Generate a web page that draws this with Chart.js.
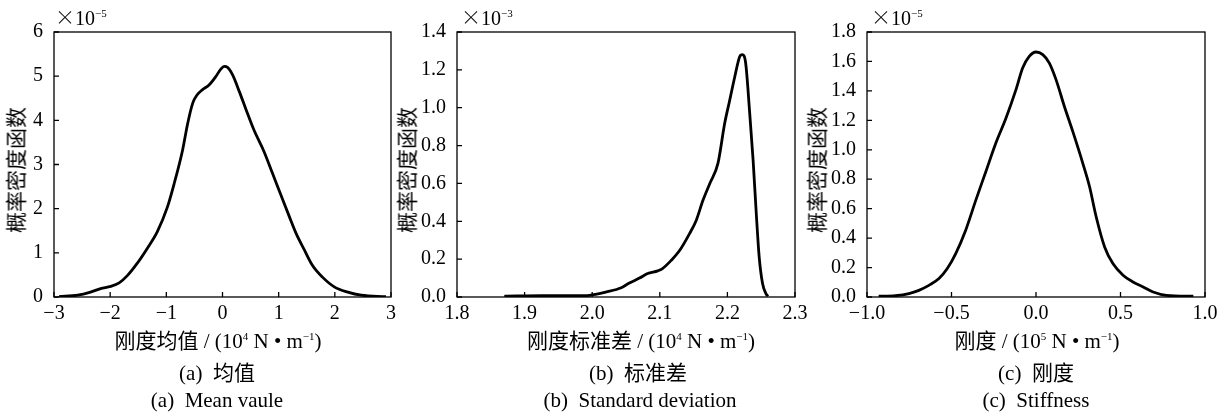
<!DOCTYPE html>
<html lang="zh-CN">
<head>
    <meta charset="UTF-8">
    <title>概率密度函数</title>
    <script src="https://cdn.jsdelivr.net/npm/chart.js"></script>
    <style>
        body {
            margin: 0;
            background-color: #ffffff;
        }
        #wrap {
            position: relative;
            width: 1231px;
            height: 414px;
            background: #fff;
            font-family: "Liberation Serif", "Noto Sans CJK SC", serif;
            color: #000;
        }
        .panel {
            position: absolute;
            top: 0;
            height: 414px;
        }
        .lbl {
            position: absolute;
            white-space: nowrap;
            transform: translate(-50%, -50%);
            line-height: 1;
        }
        .xt { font-size: 21px; }
        .cap { font-size: 21px; }
        .yt {
            font-size: 21px;
            transform: translate(-50%, -50%) rotate(-90deg);
        }
        .mult {
            position: absolute;
            font-size: 20px;
            line-height: 1;
            white-space: nowrap;
        }
        .mult .x { font-family: "Noto Sans CJK SC", sans-serif; font-size: 20px; font-weight: 300; }
        sup {
            font-size: 11px;
            vertical-align: 8px;
            line-height: 0;
        }
    </style>
</head>
<body>
<div id="wrap">
    <div class="panel" style="left:0;width:410px"><canvas id="chartMean"></canvas></div>
    <div class="panel" style="left:410px;width:410px"><canvas id="chartSd"></canvas></div>
    <div class="panel" style="left:820px;width:411px"><canvas id="chartStiff"></canvas></div>

    <!-- panel (a) -->
    <div class="mult" style="left:55px;top:7px"><span class="x">×</span>10<sup>−5</sup></div>
    <div class="lbl yt" style="left:17px;top:170px">概率密度函数</div>
    <div class="lbl xt" style="left:218px;top:341px">刚度均值 / (10<sup>4</sup> N • m<sup>−1</sup>)</div>
    <div class="lbl cap" style="left:217px;top:373px">(a)&nbsp; 均值</div>
    <div class="lbl cap" style="left:217px;top:400px">(a)&nbsp; Mean vaule</div>

    <!-- panel (b) -->
    <div class="mult" style="left:461px;top:7px"><span class="x">×</span>10<sup>−3</sup></div>
    <div class="lbl yt" style="left:408px;top:170px">概率密度函数</div>
    <div class="lbl xt" style="left:641px;top:341px">刚度标准差 / (10<sup>4</sup> N • m<sup>−1</sup>)</div>
    <div class="lbl cap" style="left:638px;top:373px">(b)&nbsp; 标准差</div>
    <div class="lbl cap" style="left:640px;top:400px">(b)&nbsp; Standard deviation</div>

    <!-- panel (c) -->
    <div class="mult" style="left:871px;top:7px"><span class="x">×</span>10<sup>−5</sup></div>
    <div class="lbl yt" style="left:818px;top:170px">概率密度函数</div>
    <div class="lbl xt" style="left:1037px;top:341px">刚度 / (10<sup>5</sup> N • m<sup>−1</sup>)</div>
    <div class="lbl cap" style="left:1036px;top:373px">(c)&nbsp; 刚度</div>
    <div class="lbl cap" style="left:1036px;top:400px">(c)&nbsp; Stiffness</div>
</div>

<script>
    // (a) 均值
    const meanX = [-2.91, -2.58, -2.35, -2.17, -1.99, -1.84, -1.69, -1.52, -1.34, -1.16, -0.98, -0.86, -0.71, -0.62, -0.53, -0.45, -0.36, -0.24, -0.12, -0.03, 0.03, 0.09, 0.18, 0.30, 0.42, 0.56, 0.74, 0.89, 1.04, 1.19, 1.31, 1.46, 1.60, 1.78, 1.99, 2.23, 2.47, 2.91];
    const meanY = [0.01, 0.04, 0.11, 0.19, 0.24, 0.32, 0.49, 0.76, 1.10, 1.48, 2.04, 2.57, 3.33, 3.93, 4.39, 4.58, 4.69, 4.80, 4.99, 5.16, 5.22, 5.20, 5.03, 4.65, 4.24, 3.78, 3.29, 2.80, 2.31, 1.82, 1.44, 1.06, 0.72, 0.45, 0.23, 0.11, 0.04, 0.01];
    const meanXTicks = [-3, -2, -1, 0, 1, 2, 3];
    const meanYTicks = [0, 1, 2, 3, 4, 5, 6];

    // (b) 标准差
    const sdX = [1.870, 1.926, 1.976, 1.996, 2.005, 2.020, 2.043, 2.055, 2.070, 2.082, 2.097, 2.104, 2.117, 2.129, 2.144, 2.154, 2.164, 2.174, 2.186, 2.196, 2.203, 2.211, 2.218, 2.222, 2.227, 2.233, 2.238, 2.243, 2.247, 2.252, 2.257, 2.260];
    const sdY = [0.005, 0.007, 0.007, 0.009, 0.014, 0.026, 0.049, 0.074, 0.100, 0.124, 0.138, 0.150, 0.194, 0.244, 0.335, 0.406, 0.512, 0.600, 0.706, 0.918, 1.033, 1.165, 1.268, 1.280, 1.236, 0.971, 0.724, 0.424, 0.212, 0.071, 0.018, 0.004];
    const sdXTicks = [1.8, 1.9, 2.0, 2.1, 2.2, 2.3];
    const sdYTicks = [0, 0.2, 0.4, 0.6, 0.8, 1.0, 1.2, 1.4];

    // (c) 刚度
    const stiffX = [-0.931, -0.832, -0.752, -0.693, -0.634, -0.574, -0.525, -0.475, -0.416, -0.356, -0.297, -0.238, -0.178, -0.119, -0.079, -0.040, 0.0, 0.040, 0.079, 0.119, 0.168, 0.218, 0.277, 0.317, 0.356, 0.406, 0.455, 0.515, 0.574, 0.634, 0.693, 0.772, 0.931];
    const stiffY = [0.005, 0.009, 0.023, 0.045, 0.079, 0.125, 0.193, 0.295, 0.454, 0.658, 0.851, 1.044, 1.214, 1.407, 1.555, 1.634, 1.664, 1.646, 1.589, 1.475, 1.294, 1.123, 0.908, 0.749, 0.545, 0.340, 0.227, 0.148, 0.102, 0.068, 0.034, 0.011, 0.005];
    const stiffXTicks = [-1, -0.5, 0, 0.5, 1];
    const stiffYTicks = [0, 0.2, 0.4, 0.6, 0.8, 1.0, 1.2, 1.4, 1.6, 1.8];

    // 边框和向内的刻度线
    const framePlugin = {
        id: 'frame',
        afterDatasetsDraw(chart) {
            const { ctx, chartArea: a, scales: { x, y } } = chart;
            ctx.save();
            ctx.strokeStyle = '#000';
            ctx.lineWidth = 1.3;
            ctx.strokeRect(a.left, a.top, a.right - a.left, a.bottom - a.top);
            ctx.beginPath();
            x.ticks.forEach(t => {
                const px = x.getPixelForValue(t.value);
                ctx.moveTo(px, a.bottom);
                ctx.lineTo(px, a.bottom - 5);
            });
            y.ticks.forEach(t => {
                const py = y.getPixelForValue(t.value);
                ctx.moveTo(a.left, py);
                ctx.lineTo(a.left + 5, py);
            });
            ctx.stroke();
            ctx.restore();
        }
    };

    const tickFont = { family: '"Liberation Serif", serif', size: 20 };

    function fmt(v, digits) {
        return v.toFixed(digits).replace('-', '−');
    }

    function makeChart(id, xs, ys, xTicks, yTicks, xDigits, yDigits, yWidth, padRight) {
        const points = xs.map((x, i) => ({ x: x, y: ys[i] }));
        return new Chart(document.getElementById(id), {
            type: 'line',
            data: {
                datasets: [{
                    data: points,
                    borderColor: '#000',
                    borderWidth: 2.8,
                    pointRadius: 0,
                    fill: false,
                    cubicInterpolationMode: 'monotone'
                }]
            },
            options: {
                responsive: true,
                maintainAspectRatio: false,
                animation: false,
                layout: { padding: { left: 0, right: padRight, top: 32, bottom: 0 } },
                plugins: { legend: { display: false }, tooltip: { enabled: false } },
                scales: {
                    x: {
                        type: 'linear',
                        min: xTicks[0],
                        max: xTicks[xTicks.length - 1],
                        grid: { display: false },
                        border: { display: false },
                        afterBuildTicks: s => { s.ticks = xTicks.map(v => ({ value: v })); },
                        afterFit: s => { s.height = 117; },
                        ticks: {
                            color: '#000',
                            font: tickFont,
                            padding: -3,
                            maxRotation: 0,
                            autoSkip: false,
                            callback: v => fmt(v, xDigits)
                        }
                    },
                    y: {
                        type: 'linear',
                        min: yTicks[0],
                        max: yTicks[yTicks.length - 1],
                        grid: { display: false },
                        border: { display: false },
                        afterBuildTicks: s => { s.ticks = yTicks.map(v => ({ value: v })); },
                        afterFit: s => { s.width = yWidth; },
                        ticks: {
                            color: '#000',
                            font: tickFont,
                            padding: 3,
                            autoSkip: false,
                            callback: v => fmt(v, yDigits)
                        }
                    }
                }
            },
            plugins: [framePlugin]
        });
    }

    makeChart('chartMean', meanX, meanY, meanXTicks, meanYTicks, 0, 0, 54, 19);
    makeChart('chartSd', sdX, sdY, sdXTicks, sdYTicks, 1, 1, 47, 25);
    makeChart('chartStiff', stiffX, stiffY, stiffXTicks, stiffYTicks, 1, 1, 47, 26);
</script>
</body>
</html>
